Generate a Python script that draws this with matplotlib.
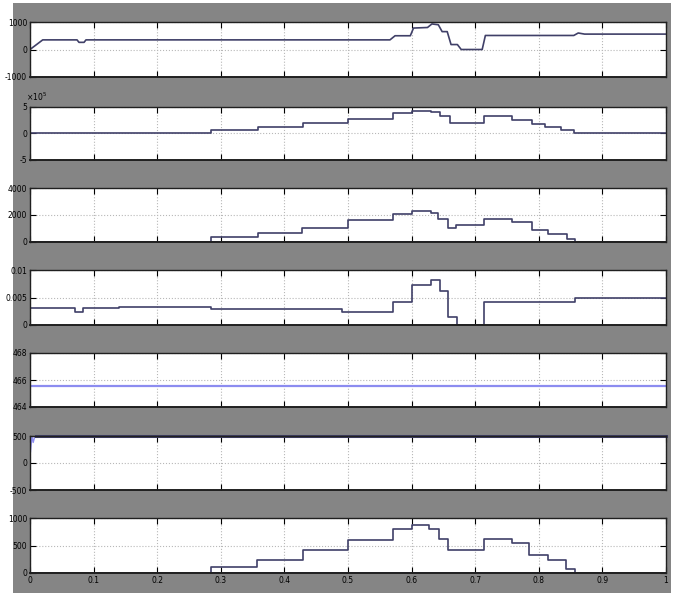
import matplotlib
matplotlib.use("Agg")
import matplotlib.pyplot as plt
from matplotlib.patches import Rectangle

# panel 1 - speed-like signal
t1 = [0, 0.02, 0.074, 0.077, 0.085, 0.088, 0.566, 0.574, 0.598, 0.603, 0.625, 0.632,
      0.642, 0.648, 0.656, 0.662, 0.672, 0.678, 0.711, 0.716, 0.855, 0.862, 0.872, 1.0]
v1 = [0, 350, 350, 260, 260, 350, 350, 500, 500, 780, 800, 930, 900, 650, 650, 180,
      180, 0, 0, 510, 510, 600, 560, 560]

# panel 2 (x 1e5)
t2 = [0, 0.285, 0.359, 0.43, 0.5, 0.571, 0.6, 0.63, 0.645, 0.66, 0.714, 0.758,
      0.79, 0.81, 0.835, 0.855, 1.0]
v2 = [0, 0.75, 1.2, 2.0, 2.8, 3.8, 4.3, 4.0, 3.3, 2.0, 3.3, 2.6, 1.7, 1.2, 0.75, 0, 0]

# panel 3
t3 = [0, 0.285, 0.358, 0.428, 0.5, 0.571, 0.6, 0.63, 0.642, 0.658, 0.67, 0.714,
      0.758, 0.79, 0.815, 0.844, 0.857, 1.0]
v3 = [0, 370, 670, 1070, 1600, 2100, 2300, 2170, 1730, 1070, 1240, 1730, 1480,
      920, 620, 250, 0, 0]

# panel 4
t4 = [0, 0.071, 0.084, 0.14, 0.285, 0.49, 0.571, 0.6, 0.63, 0.645, 0.658, 0.671,
      0.714, 0.857, 1.0]
v4 = [0.0031, 0.0024, 0.0031, 0.0032, 0.0030, 0.0024, 0.0041, 0.0073, 0.0082,
      0.0061, 0.0015, 0.0, 0.0041, 0.005, 0.005]

# panel 5
t5 = [0, 1.0]
v5 = [465.55, 465.55]

# panel 6
t6_start = [0, 0.003, 0.005, 0.007, 0.009]
v6_start = [120, 500, 380, 470, 500]
t6 = [0.009, 1.0]
v6 = [500, 500]

# panel 7
t7 = [0, 0.285, 0.357, 0.43, 0.5, 0.571, 0.6, 0.628, 0.643, 0.658, 0.714, 0.758,
      0.785, 0.815, 0.843, 0.857, 1.0]
v7 = [0, 110, 230, 420, 600, 800, 870, 800, 620, 420, 620, 540, 320, 230, 80, 0, 0]

ylims = [(-1000, 1000), (-5, 5), (0, 4000), (0, 0.01), (464, 468), (-500, 500), (0, 1000)]
yticks = [[-1000, 0, 1000], [-5, 0, 5], [0, 2000, 4000], [0, 0.005, 0.01],
          [464, 466, 468], [-500, 0, 500], [0, 500, 1000]]
ylabels = [["-1000", "0", "1000"], ["-5", "0", "5"], ["0", "2000", "4000"],
           ["0", "0.005", "0.01"], ["464", "466", "468"], ["-500", "0", "500"],
           ["0", "500", "1000"]]
xticks = [0, 0.1, 0.2, 0.3, 0.4, 0.5, 0.6, 0.7, 0.8, 0.9, 1]
xlabels = ["0", "0.1", "0.2", "0.3", "0.4", "0.5", "0.6", "0.7", "0.8", "0.9", "1"]

W, H = 678, 593
fig = plt.figure(figsize=(W / 100, H / 100), dpi=100)
fig.patch.set_facecolor("white")
fig.patches.append(Rectangle((13 / W, 0), (671 - 13) / W, 1 - 3 / H,
                             transform=fig.transFigure, facecolor="#858585",
                             edgecolor="none", zorder=-5))

rows = [(22, 77), (107, 160), (188, 242), (270, 325), (353, 407), (436, 490), (518, 573)]
dark = "#404068"
light = "#8c8cf0"

series = [(t1, v1), (t2, v2), (t3, v3), (t4, v4), (t5, v5), (t6, v6), (t7, v7)]
stepped = [False, True, True, True, False, False, True]

for i, (top, bot) in enumerate(rows):
    ax = fig.add_axes([30 / W, 1 - bot / H, 636 / W, (bot - top) / H])
    ax.set_facecolor("white")
    t, v = series[i]
    if i == 4:
        ax.plot(t, v, color=light, lw=1.6)
    elif i == 5:
        ax.plot(t6_start, v6_start, color=light, lw=1.0)
        ax.plot(t, v, color=dark, lw=2.2, clip_on=False)
    else:
        ax.plot(t, v, color=dark, lw=1.2,
                drawstyle="steps-post" if stepped[i] else "default")
    if i in (2, 6):
        ax.axhline(ylims[i][0], color="#5050c8", lw=2.0, zorder=1)
    ax.set_xlim(0, 1)
    ax.set_ylim(*ylims[i])
    ax.set_xticks(xticks)
    ax.set_yticks(yticks[i])
    ax.set_yticklabels(ylabels[i])
    if i == 6:
        ax.set_xticklabels(xlabels)
    else:
        ax.set_xticklabels([])
    ax.grid(True, color="#b8b8b8", linestyle=":", lw=0.8)
    ax.tick_params(direction="in", length=4, width=0.8, labelsize=5.5,
                   top=True, right=True, pad=2)
    for s in ax.spines.values():
        s.set_color("#202020")
        s.set_linewidth(1.0)
    ax.spines["bottom"].set_linewidth(1.4)
    if i == 1:
        ax.text(-0.006, 1.08, r"$\times10^5$", transform=ax.transAxes,
                fontsize=5.5, ha="left", va="bottom")

fig.savefig("out.png", dpi=100, facecolor=fig.get_facecolor())
